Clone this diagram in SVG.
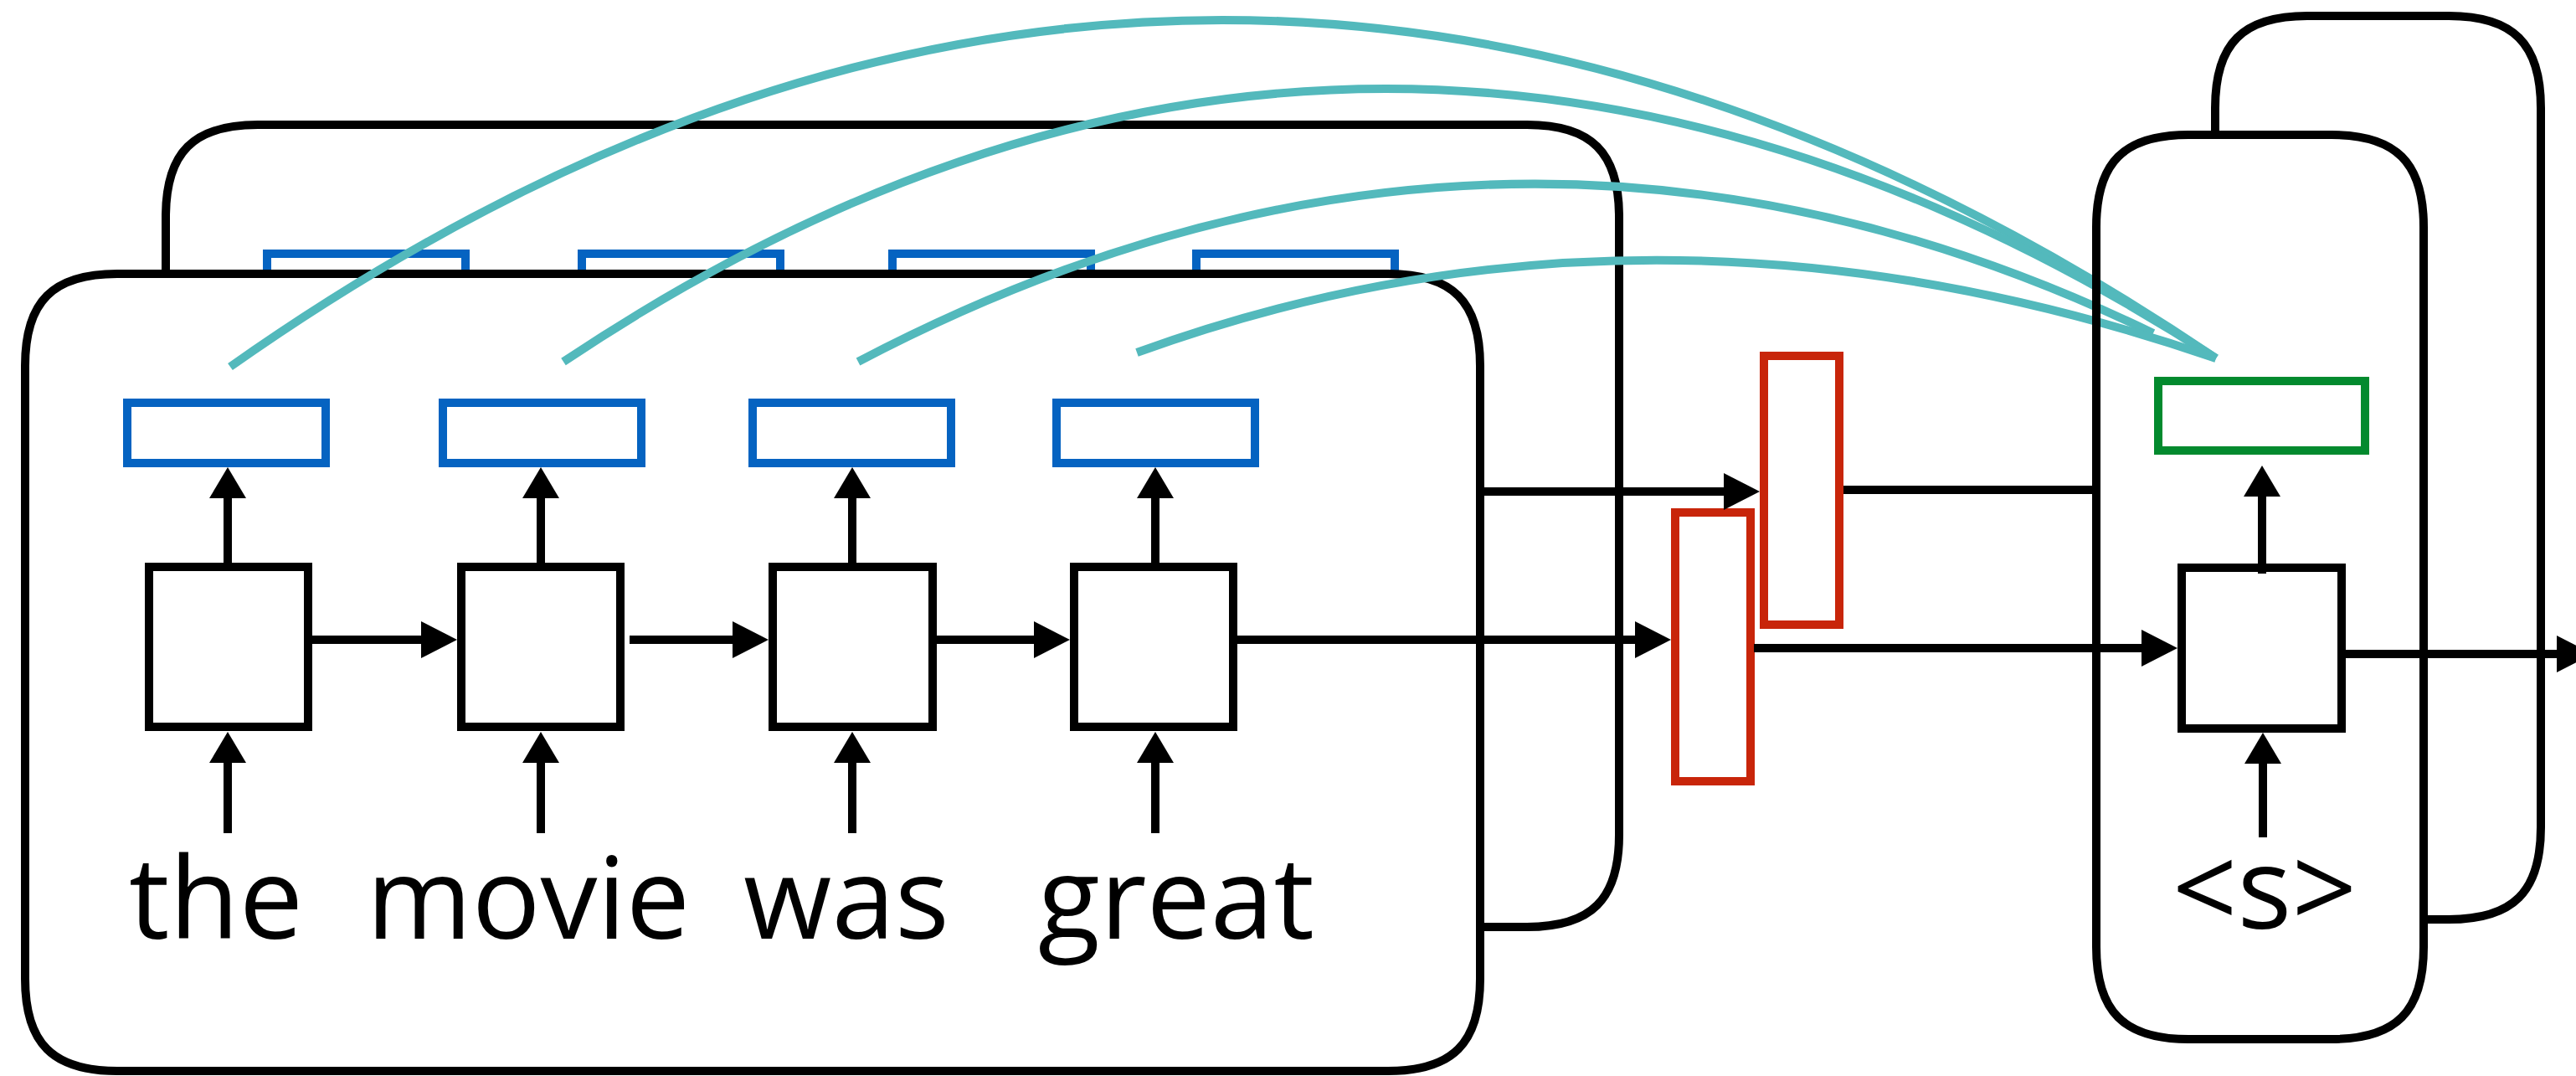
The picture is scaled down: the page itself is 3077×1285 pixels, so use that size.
<svg xmlns="http://www.w3.org/2000/svg" width="3077" height="1285" viewBox="0 0 3077 1285">
<style>
.frame{fill:#fff;stroke:#000;stroke-width:10}
.oframe{fill:none;stroke:#000;stroke-width:10}
.blue{fill:#fff;stroke:#0563C1;stroke-width:10}
.red{fill:#fff;stroke:#C8250A;stroke-width:10}
.green{fill:#fff;stroke:#038A2E;stroke-width:10}
.cell{fill:#fff;stroke:#000;stroke-width:10}
.conn{fill:none;stroke:#000;stroke-width:10}
.h{marker-end:url(#ah)}
.v{marker-end:url(#av)}
.att{fill:none;stroke:#53B9BC;stroke-width:10}
.word{font-family:"Open Sans","Liberation Sans",sans-serif;font-size:136px;text-anchor:middle;fill:#000}
</style>
<defs>
<marker id="ah" markerUnits="userSpaceOnUse" viewBox="0 0 43 44" markerWidth="43" markerHeight="44" refX="23" refY="22" orient="auto"><path d="M0,0 L43,22 L0,44 Z" fill="#000"/></marker>
<marker id="av" markerUnits="userSpaceOnUse" viewBox="0 0 37 44" markerWidth="37" markerHeight="44" refX="17" refY="22" orient="auto"><path d="M0,0 L37,22 L0,44 Z" fill="#000"/></marker>
</defs>
<rect width="3077" height="1285" fill="#fff"/>

<g id="encoder-back">
<path class="frame" d="M308,149 H1824 C1901,149 1934,182 1934,259 V997 C1934,1074 1901,1107 1824,1107 H308 C231,1107 198,1074 198,997 V259 C198,182 231,149 308,149 Z"/>
<rect class="blue" x="319" y="303" width="237" height="72"/>
<rect class="blue" x="695" y="303" width="237" height="72"/>
<rect class="blue" x="1066" y="303" width="237" height="72"/>
<rect class="blue" x="1429" y="303" width="237" height="72"/>
</g>

<g id="encoder-front">
<path class="frame" d="M140,327 H1658 C1735,327 1768,360 1768,437 V1169 C1768,1246 1735,1279 1658,1279 H140 C63,1279 30,1246 30,1169 V437 C30,360 63,327 140,327 Z"/>
</g>

<g id="enc-h1"><rect class="blue" x="152" y="481" width="237" height="72"/></g>
<g id="enc-h2"><rect class="blue" x="529" y="481" width="237" height="72"/></g>
<g id="enc-h3"><rect class="blue" x="899" y="481" width="237" height="72"/></g>
<g id="enc-h4"><rect class="blue" x="1262" y="481" width="237" height="72"/></g>

<g id="enc-cell1"><rect class="cell" x="178" y="677" width="190" height="191"/></g>
<g id="enc-cell2"><rect class="cell" x="551" y="677" width="190" height="191"/></g>
<g id="enc-cell3"><rect class="cell" x="923" y="677" width="191" height="191"/></g>
<g id="enc-cell4"><rect class="cell" x="1283" y="677" width="190" height="191"/></g>

<g id="word-the"><text class="word" x="258" y="1121">the</text></g>
<g id="word-movie"><text class="word" x="631" y="1121">movie</text></g>
<g id="word-was"><text class="word" x="1011" y="1121">was</text></g>
<g id="word-great"><text class="word" x="1405" y="1121">great</text></g>

<g id="decoder-back">
<path class="oframe" d="M2646,161 V129 C2646,52 2679,19 2756,19 H2925 C3002,19 3035,52 3035,129 V988 C3035,1065 3002,1098 2925,1098 H2895"/>
</g>

<g id="context-1"><rect class="red" x="2001" y="612" width="90" height="321"/></g>
<g id="context-2"><rect class="red" x="2107" y="425" width="90" height="321"/></g>
<g id="dec-out"><rect class="green" x="2578" y="455" width="247" height="83"/></g>
<g id="dec-cell"><rect class="cell" x="2606" y="678" width="191" height="192"/></g>
<g id="token-s"><text class="word" x="2705" y="1109">&lt;s&gt;</text></g>

<g id="connectors">
<line class="conn v" x1="272" y1="677" x2="272" y2="578"/>
<line class="conn v" x1="646" y1="677" x2="646" y2="578"/>
<line class="conn v" x1="1018" y1="677" x2="1018" y2="578"/>
<line class="conn v" x1="1380" y1="677" x2="1380" y2="578"/>
<line class="conn v" x1="272" y1="995" x2="272" y2="894"/>
<line class="conn v" x1="646" y1="995" x2="646" y2="894"/>
<line class="conn v" x1="1018" y1="995" x2="1018" y2="894"/>
<line class="conn v" x1="1380" y1="995" x2="1380" y2="894"/>
<line class="conn h" x1="373" y1="764" x2="526" y2="764"/>
<line class="conn h" x1="752" y1="764" x2="898" y2="764"/>
<line class="conn h" x1="1119" y1="764" x2="1258" y2="764"/>
<line class="conn h" x1="1478" y1="764" x2="1976" y2="764"/>
<line class="conn h" x1="1768" y1="587" x2="2082" y2="587"/>
<line class="conn" x1="2202" y1="585" x2="2504" y2="585"/>
<line class="conn h" x1="2095" y1="774" x2="2581" y2="774"/>
<line class="conn h" x1="2802" y1="781" x2="3077" y2="781"/>
<line class="conn v" x1="2702" y1="685" x2="2702" y2="576"/>
<line class="conn v" x1="2703" y1="1000" x2="2703" y2="895"/>
</g>

<g id="attention">
<path class="att" d="M275,438 Q1444,-385 2647,428"/>
<path class="att" d="M673,432 Q1645,-218 2647,428"/>
<path class="att" d="M1025,432 Q1801,25 2572,398"/>
<path class="att" d="M1358,421 Q1975,197 2647,428"/>
</g>

<g id="decoder-front">
<path class="oframe" d="M2614,161 H2785 C2862,161 2895,194 2895,271 V1131 C2895,1208 2862,1241 2785,1241 H2614 C2537,1241 2504,1208 2504,1131 V271 C2504,194 2537,161 2614,161 Z"/>
</g>
</svg>
